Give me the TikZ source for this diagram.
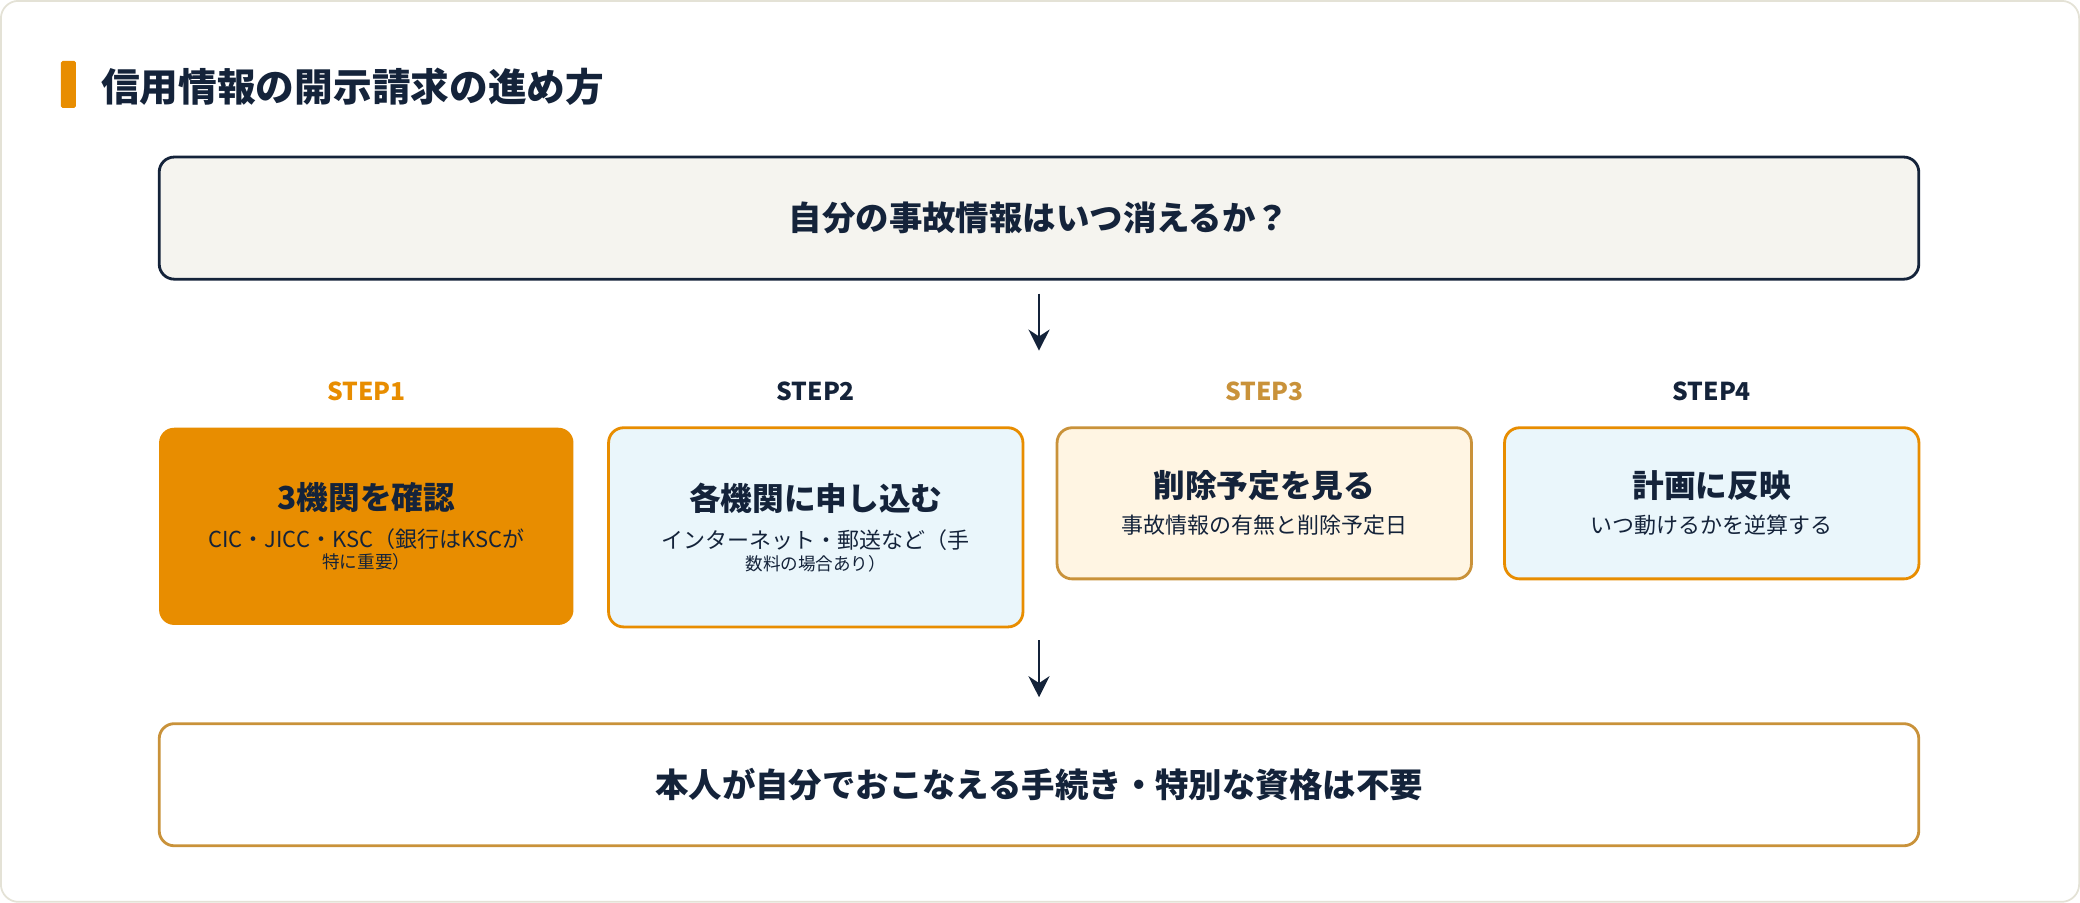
\documentclass[tikz,border=0pt]{standalone}
\usepackage{fontspec}
\setmainfont{Noto Sans CJK JP}
\usetikzlibrary{arrows.meta, positioning}
\definecolor{navy}{HTML}{14233A}
\definecolor{orng}{HTML}{E88D00}
\definecolor{gold}{HTML}{C9923A}
\definecolor{paper}{HTML}{F5F4EF}
\definecolor{sky}{HTML}{EAF6FB}
\definecolor{cream}{HTML}{FFF5E3}
\definecolor{frame}{HTML}{E4E2D6}

\begin{document}
\begin{tikzpicture}
[
    x=0.02cm, y=-0.02cm,
    bigbox/.style={
        draw,
        rectangle,
        rounded corners=0.3cm,
        line width=1.6pt,
        minimum width=35.16cm,
        minimum height=2.44cm,
        align=center,
        font=\bfseries\fontsize{19}{23}\selectfont,
        text=navy,
    },
    stepbox/.style={
        rectangle,
        rounded corners=0.3cm,
        line width=1.6pt,
        minimum width=8.28cm,
        anchor=north,
        align=center,
        inner sep=0pt,
        text=navy,
    },
    steplabel/.style={font=\bfseries\fontsize{14}{17}\selectfont},
    arrow/.style={-{Stealth[length=0.42cm,width=0.42cm]}, line width=1.6pt, navy}
]

% frame and title
\draw[frame, fill=white, rounded corners=0.35cm, line width=1pt] (2,2) rectangle (2078,902);
\fill[orng, rounded corners=1pt] (62,62) rectangle (77,109);
\node[anchor=west, text=navy, font=\bfseries\fontsize{22}{26}\selectfont] (title) at (96,88) {信用情報の開示請求の進め方};

% top and bottom boxes
\node[bigbox, draw=navy, fill=paper] (question) at (1039,219) {自分の事故情報はいつ消えるか？};
\node[bigbox, draw=gold, fill=white] (note) at (1039,785) {本人が自分でおこなえる手続き・特別な資格は不要};

% steps
\node[stepbox, fill=orng, minimum height=3.94cm] (step1) at (367,427)
    {{\bfseries\fontsize{18}{22}\selectfont 3機関を確認}\\[0.3cm]
     \fontsize{12.5}{28}\selectfont CIC・JICC・KSC（銀行はKSCが\\特に重要）};
\node[stepbox, draw=orng, fill=sky, minimum height=3.98cm] (step2) at (816,427)
    {{\bfseries\fontsize{18}{22}\selectfont 各機関に申し込む}\\[0.3cm]
     \fontsize{12.5}{28}\selectfont インターネット・郵送など（手\\数料の場合あり）};
\node[stepbox, draw=gold, fill=cream, minimum height=3.02cm] (step3) at (1264,427)
    {{\bfseries\fontsize{18}{22}\selectfont 削除予定を見る}\\[0.25cm]
     \fontsize{12.5}{16}\selectfont 事故情報の有無と削除予定日};
\node[stepbox, draw=orng, fill=sky, minimum height=3.02cm] (step4) at (1711,427)
    {{\bfseries\fontsize{18}{22}\selectfont 計画に反映}\\[0.25cm]
     \fontsize{12.5}{16}\selectfont いつ動けるかを逆算する};

% step labels
\node[steplabel, text=orng, above=0.38cm of step1] {STEP1};
\node[steplabel, text=navy, above=0.38cm of step2] {STEP2};
\node[steplabel, text=gold, above=0.38cm of step3] {STEP3};
\node[steplabel, text=navy, above=0.38cm of step4] {STEP4};

% arrows
\draw[arrow] ([yshift=-0.26cm]question.south) -- ++(0,57);
\draw[arrow] ([yshift=1.64cm]note.north) -- ++(0,57);

\end{tikzpicture}
\end{document}
